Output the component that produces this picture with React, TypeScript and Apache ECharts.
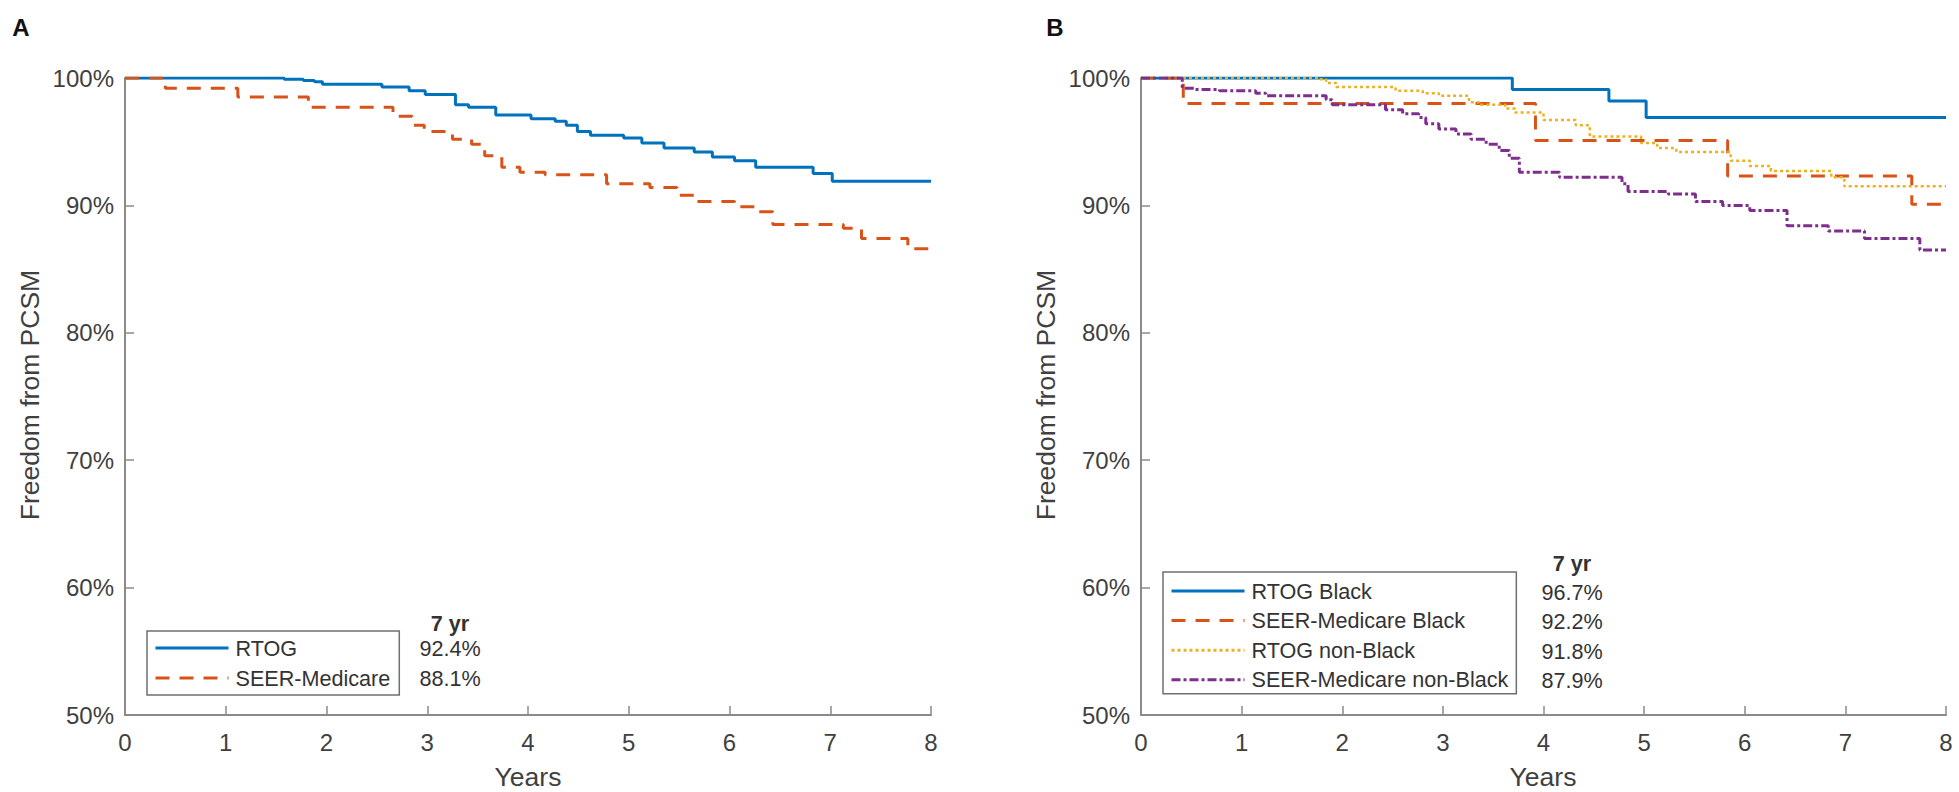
import React, { useEffect, useRef } from "react";
import * as echarts from "echarts";

// ---- Panel A data (years, % freedom from PCSM) ----
const A_RTOG_T = [0, 1.58, 1.77, 1.88, 1.96, 2.55, 2.82, 2.98, 3.28, 3.41, 3.68, 4.03, 4.27, 4.38, 4.49, 4.62, 4.95, 5.13, 5.35, 5.65, 5.83, 6.05, 6.26, 6.83, 7.02, 8];
const A_RTOG_V = [100, 99.9, 99.8, 99.7, 99.5, 99.3, 99.0, 98.7, 97.9, 97.7, 97.1, 96.8, 96.6, 96.3, 95.8, 95.5, 95.3, 94.9, 94.5, 94.2, 93.8, 93.5, 93.0, 92.5, 91.9, 91.9];
const A_SEER_T = [0, 0.4, 1.12, 1.82, 2.66, 2.85, 2.97, 3.25, 3.44, 3.57, 3.74, 3.92, 4.17, 4.78, 5.21, 5.48, 5.67, 6.05, 6.29, 6.43, 7.13, 7.31, 7.77, 8];
const A_SEER_V = [100, 99.2, 98.5, 97.7, 97.0, 96.3, 95.8, 95.2, 94.8, 93.9, 93.0, 92.6, 92.4, 91.7, 91.4, 90.8, 90.3, 89.9, 89.5, 88.5, 88.2, 87.4, 86.6, 86.6];

// ---- Panel B data ----
const B_RTOG_BLACK_T = [0, 3.69, 4.65, 5.02, 8];
const B_RTOG_BLACK_V = [100, 99.1, 98.2, 96.9, 96.9];
const B_SEER_BLACK_T = [0, 0.42, 3.92, 5.83, 7.66, 8];
const B_SEER_BLACK_V = [100, 98.0, 95.1, 92.3, 90.1, 90.1];
const B_RTOG_NB_T = [0, 1.77, 1.84, 1.94, 2.53, 2.8, 2.96, 3.26, 3.36, 3.62, 3.72, 4.0, 4.32, 4.46, 4.97, 5.13, 5.32, 5.86, 6.05, 6.26, 6.86, 6.99, 8];
const B_RTOG_NB_V = [100, 99.9, 99.6, 99.3, 99.0, 98.8, 98.6, 98.1, 97.9, 97.6, 97.3, 96.7, 96.3, 95.4, 94.9, 94.5, 94.2, 93.5, 93.1, 92.7, 92.2, 91.5, 91.5];
const B_SEER_NB_T = [0, 0.41, 0.53, 0.78, 1.14, 1.24, 1.84, 1.9, 2.43, 2.6, 2.76, 2.83, 2.96, 3.13, 3.28, 3.43, 3.56, 3.66, 3.76, 4.16, 4.78, 4.84, 5.24, 5.51, 5.78, 6.05, 6.42, 6.83, 7.19, 7.74, 8];
const B_SEER_NB_V = [100, 99.2, 99.1, 99.0, 98.8, 98.6, 98.3, 97.9, 97.5, 97.2, 96.9, 96.4, 96.0, 95.6, 95.2, 94.8, 94.3, 93.7, 92.6, 92.2, 91.7, 91.1, 90.9, 90.3, 90.0, 89.6, 88.4, 88.0, 87.4, 86.5, 86.5];

// ---- Labels ----
const NAMES_A = ["RTOG", "SEER-Medicare"];
const NAMES_B = ["RTOG Black", "SEER-Medicare Black", "RTOG non-Black", "SEER-Medicare non-Black"];
const VALUES_A = ["92.4%", "88.1%"];
const VALUES_B = ["96.7%", "92.2%", "91.8%", "87.9%"];
const COL_HEADER = "7 yr";
const Y_TITLE = "Freedom from PCSM";
const X_TITLE = "Years";
const PANELS = ["A", "B"];

const FONT = '"Liberation Sans", Arial, Helvetica, sans-serif';
const BLUE = "#0072BD";
const RED = "#D95319";
const YELLOW = "#EDB120";
const PURPLE = "#7E2F8E";
const AXIS = "#8a8a8a";
const TEXT = "#404040";

const zip = (t: number[], v: number[]) => t.map((x, i) => [x, v[i]]);

export default function App() {
  const ref = useRef<HTMLDivElement>(null);
  useEffect(() => {
    if (!ref.current) return;
    const chart = echarts.init(ref.current, undefined, { renderer: "svg" });

    const xAxisBase = (gridIndex: number) => ({
      type: "value" as const,
      gridIndex,
      min: 0,
      max: 8,
      interval: 1,
      axisLine: { show: true, lineStyle: { color: AXIS, width: 2 } },
      axisTick: { show: true, inside: true, length: 9, lineStyle: { color: AXIS, width: 1.5 } },
      axisLabel: { color: TEXT, fontSize: 24, fontFamily: FONT, margin: 15 },
      splitLine: { show: false },
    });
    const yAxisBase = (gridIndex: number) => ({
      type: "value" as const,
      gridIndex,
      min: 50,
      max: 100,
      interval: 10,
      axisLine: { show: true, lineStyle: { color: AXIS, width: 2 } },
      axisTick: { show: true, inside: true, length: 9, lineStyle: { color: AXIS, width: 1.5 } },
      axisLabel: { color: TEXT, fontSize: 24, fontFamily: FONT, margin: 11, formatter: "{value}%" },
      splitLine: { show: false },
    });

    const mk = (name: string, t: number[], v: number[], idx: number, color: string, type: any, width = 3) => ({
      type: "line" as const,
      name,
      xAxisIndex: idx,
      yAxisIndex: idx,
      data: zip(t, v),
      step: "end" as const,
      showSymbol: false,
      symbol: "none",
      lineStyle: { color, width, type },
      itemStyle: { color },
      z: 3,
    });

    const legendBase = {
      orient: "vertical" as const,
      borderColor: "#6f6f6f",
      borderWidth: 1.5,
      backgroundColor: "#fff",
      itemWidth: 73,
      itemHeight: 22,
      itemStyle: { opacity: 0 },
      lineStyle: { width: 3 },
      textStyle: { fontSize: 21.6, fontFamily: FONT, color: "#333", padding: [0, 0, 0, 2] },
      selectedMode: false,
    };

    const txt = (x: number, y: number, text: string, opts: any = {}) => ({
      type: "text" as const,
      x,
      y,
      silent: true,
      style: {
        text,
        fill: opts.fill || "#333",
        font: `${opts.bold ? "bold " : ""}${opts.size || 21.6}px ${FONT}`,
        textAlign: opts.align || "center",
        textVerticalAlign: "middle",
      },
      rotation: opts.rotation || 0,
    });

    const graphics: any[] = [
      txt(21, 27, PANELS[0], { bold: true, size: 24, fill: "#111" }),
      txt(1055, 27, PANELS[1], { bold: true, size: 24, fill: "#111" }),
      txt(30, 395, Y_TITLE, { size: 26.5, rotation: Math.PI / 2, fill: TEXT }),
      txt(1046, 395, Y_TITLE, { size: 26.5, rotation: Math.PI / 2, fill: TEXT }),
      txt(528, 777, X_TITLE, { size: 26.5, fill: TEXT }),
      txt(1543, 777, X_TITLE, { size: 26.5, fill: TEXT }),
      txt(450, 623, COL_HEADER, { bold: true }),
      txt(1572, 563, COL_HEADER, { bold: true }),
    ];
    VALUES_A.forEach((v, i) => graphics.push(txt(450, 648 + i * 30, v)));
    VALUES_B.forEach((v, i) => graphics.push(txt(1572, 592 + i * 29.6, v)));

    chart.setOption({
      animation: false,
      backgroundColor: "#fff",
      grid: [
        { left: 125, right: 1959 - 931, top: 78, bottom: 792 - 715 },
        { left: 1141, right: 1959 - 1946, top: 78, bottom: 792 - 715 },
      ],
      xAxis: [xAxisBase(0), xAxisBase(1)],
      yAxis: [yAxisBase(0), yAxisBase(1)],
      legend: [
        { ...legendBase, data: NAMES_A, left: 147, top: 631, padding: [6, 9, 6, 7], itemGap: 8 },
        { ...legendBase, data: NAMES_B, left: 1163, top: 572, padding: [8, 8, 3, 7], itemGap: 7.6 },
      ],
      series: [
        mk(NAMES_A[0], A_RTOG_T, A_RTOG_V, 0, BLUE, "solid"),
        mk(NAMES_A[1], A_SEER_T, A_SEER_V, 0, RED, [14, 10]),
        mk(NAMES_B[0], B_RTOG_BLACK_T, B_RTOG_BLACK_V, 1, BLUE, "solid"),
        mk(NAMES_B[1], B_SEER_BLACK_T, B_SEER_BLACK_V, 1, RED, [14, 10]),
        mk(NAMES_B[2], B_RTOG_NB_T, B_RTOG_NB_V, 1, YELLOW, [3, 3], 2.5),
        mk(NAMES_B[3], B_SEER_NB_T, B_SEER_NB_V, 1, PURPLE, [9, 3, 3, 3]),
      ],
      graphic: graphics,
    });
    return () => chart.dispose();
  }, []);

  return (
    <div
      ref={ref}
      style={{ position: "fixed", left: 0, top: 0, width: 1959, height: 792, background: "#fff" }}
    />
  );
}
